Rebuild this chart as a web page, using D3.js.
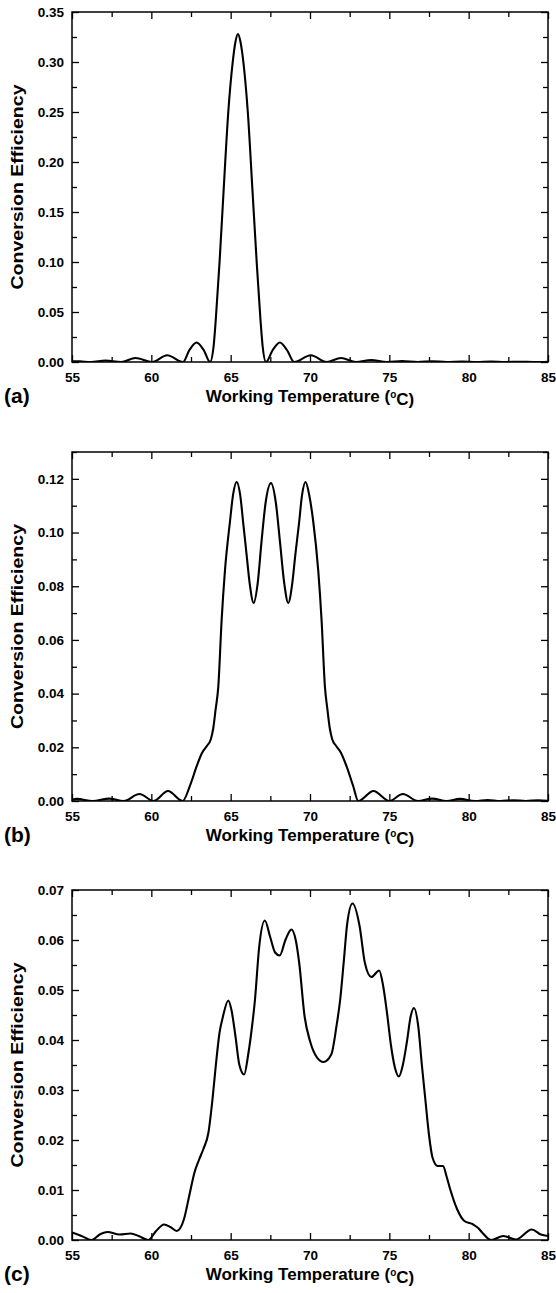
<!DOCTYPE html>
<html>
<head>
<meta charset="utf-8">
<script src="https://cdn.jsdelivr.net/npm/d3@7"></script>
<style>
  body { margin: 0; background: #fff; }
  text { font-family: "Liberation Sans", Arial, sans-serif; font-weight: bold; fill: #000; }
</style>
</head>
<body>
<script>
var width = 556,
    height = 1293;

// x axis (working temperature, deg C)
var tempDomain = [55, 85];
var tempTicks = [55, 60, 65, 70, 75, 80, 85];
var tempMinor = [57.5, 62.5, 67.5, 72.5, 77.5, 82.5];

// y ticks per panel
var effTicksA = [0, 0.05, 0.10, 0.15, 0.20, 0.25, 0.30, 0.35];
var effTicksB = [0, 0.02, 0.04, 0.06, 0.08, 0.10, 0.12];
var effTicksC = [0, 0.01, 0.02, 0.03, 0.04, 0.05, 0.06, 0.07];

// (a) single grating  [temperature, efficiency]
var curveA = [
  [55, 0.0008], [55.5, 0.0006], [56.2, 0], [57.1, 0.0015], [58.1, 0], [59.0, 0.004],
  [60.05, 0], [61.0, 0.0068], [62.0, 0], [62.4, 0.012], [62.85, 0.0195], [63.3, 0.012],
  [63.7, 0], [63.92, 0.015], [64.06, 0.042], [64.3, 0.10], [64.55, 0.17], [64.85, 0.25],
  [65.13, 0.30], [65.3, 0.32], [65.46, 0.328], [65.62, 0.32], [65.8, 0.30], [66.08, 0.25],
  [66.38, 0.17], [66.64, 0.10], [66.88, 0.042], [67.02, 0.015], [67.23, 0], [67.65, 0.012],
  [68.1, 0.0195], [68.55, 0.012], [69.0, 0], [70.05, 0.0068], [71.05, 0], [71.95, 0.004],
  [72.9, 0], [73.85, 0.002], [74.85, 0], [75.8, 0.001], [76.8, 0], [77.7, 0.0008],
  [78.6, 0], [79.6, 0.0005], [80.5, 0], [81.4, 0.0004], [82.3, 0], [83.2, 0.0003],
  [84.1, 0], [85, 0.0003]
];

// (b) three peaks
var curveB = [
  [55, 0.0004], [55.3, 0.0008], [56.3, 0], [57.35, 0.0009], [58.25, 0], [59.25, 0.0026],
  [60.15, 0], [61.05, 0.0037], [61.97, 0], [62.43, 0.0056], [62.86, 0.013], [63.2, 0.018],
  [63.5, 0.0205], [63.75, 0.023], [63.9, 0.027], [64.05, 0.034], [64.22, 0.0426],
  [64.43, 0.0673], [64.64, 0.0858], [64.96, 0.1043], [65.15, 0.114], [65.38, 0.1188],
  [65.6, 0.114], [65.8, 0.103], [66.0, 0.092], [66.2, 0.081], [66.45, 0.0738],
  [66.7, 0.081], [66.95, 0.097], [67.2, 0.111], [67.54, 0.1184], [67.85, 0.111],
  [68.1, 0.097], [68.38, 0.081], [68.63, 0.0738], [68.88, 0.081], [69.08, 0.092],
  [69.3, 0.103], [69.5, 0.114], [69.72, 0.1188], [69.95, 0.114], [70.2, 0.1043],
  [70.52, 0.0858], [70.73, 0.0673], [70.94, 0.0426], [71.1, 0.034], [71.25, 0.027],
  [71.4, 0.023], [71.65, 0.0205], [71.95, 0.018], [72.3, 0.013], [72.72, 0.0056],
  [73.04, 0], [74.0, 0.0037], [75.0, 0], [75.85, 0.0026], [76.8, 0], [77.7, 0.0009],
  [78.6, 0], [79.45, 0.0008], [80.4, 0], [81.2, 0.0004], [82.0, 0], [82.8, 0.0003],
  [83.6, 0], [84.4, 0.0003], [85, 0.0001]
];

// (c) broad multi-peak
var curveC = [
  [55, 0.0015], [55.6, 0.0008], [56.23, 0], [56.8, 0.0012], [57.24, 0.0016], [58.0, 0.0011],
  [58.7, 0.0013], [59.2, 0.0008], [59.8, 0], [60.3, 0.0018], [60.8, 0.0031], [61.2, 0.0026],
  [61.6, 0.0018], [62.05, 0.0041], [62.4, 0.009], [62.72, 0.0135], [63.0, 0.016],
  [63.28, 0.0182], [63.6, 0.0215], [63.85, 0.028], [64.06, 0.0348], [64.3, 0.0415],
  [64.5, 0.0445], [64.85, 0.0479], [65.05, 0.046], [65.3, 0.0408], [65.55, 0.035],
  [65.85, 0.0331], [66.1, 0.037], [66.3, 0.0415], [66.53, 0.048], [66.8, 0.0587],
  [67.15, 0.0639], [67.5, 0.0605], [67.8, 0.0575], [68.09, 0.0569], [68.45, 0.06],
  [68.83, 0.0621], [69.1, 0.06], [69.32, 0.0554], [69.66, 0.0447], [70.0, 0.0398],
  [70.44, 0.0365], [70.85, 0.0356], [71.34, 0.0371], [71.67, 0.0428], [71.9, 0.048],
  [72.12, 0.0554], [72.35, 0.0634], [72.68, 0.0673], [73.13, 0.0627], [73.46, 0.0554],
  [73.87, 0.0526], [74.36, 0.0539], [74.6, 0.051], [74.85, 0.0455], [75.1, 0.039],
  [75.35, 0.0345], [75.6, 0.0327], [75.85, 0.035], [76.1, 0.0395], [76.35, 0.0448],
  [76.55, 0.0464], [76.82, 0.0428], [77.05, 0.035], [77.27, 0.0281], [77.5, 0.021],
  [77.72, 0.0165], [78.05, 0.0148], [78.39, 0.0148], [78.6, 0.0128], [78.84, 0.0101],
  [79.28, 0.0061], [79.73, 0.0038], [80.29, 0.0031], [80.6, 0.0024], [80.85, 0.0015],
  [81.41, 0], [82.19, 0.0008], [82.98, 0.0001], [83.98, 0.0021], [84.55, 0.0011],
  [85, 0.0008]
];

var svg = d3.select("body").append("svg")
    .attr("width", width)
    .attr("height", height);

var left = 72, right = 548;

function drawPanel(data, yTicks, yMax, top, bottom, tag, id) {
  var x = d3.scaleLinear().domain(tempDomain).range([left, right]);
  var y = d3.scaleLinear().domain([0, yMax]).range([bottom, top]);
  var fmt = d3.format(".2f");

  var g = svg.append("g");

  // clip for the curve
  svg.append("clipPath").attr("id", "clip" + id)
    .append("rect")
    .attr("x", left).attr("y", top - 2)
    .attr("width", right - left).attr("height", bottom - top + 2);

  var step = yTicks[1] - yTicks[0];
  var yMinor = yTicks.slice(0, -1).map(function(v, i) { return (v + yTicks[i + 1]) / 2; });
  if (yTicks[yTicks.length - 1] + step / 2 <= yMax + 1e-9)
    yMinor.push(yTicks[yTicks.length - 1] + step / 2);

  function axisGroup(axis, tx, ty) {
    var a = g.append("g")
      .attr("transform", "translate(" + tx + "," + ty + ")")
      .call(axis);
    a.select(".domain").remove();
    a.selectAll("line").attr("stroke", "#000").attr("stroke-width", 1.3);
    a.selectAll("text")
      .style("font-size", "13.5px")
      .style("font-family", "'Liberation Sans', Arial, sans-serif")
      .style("font-weight", "bold");
    return a;
  }

  // bottom
  axisGroup(d3.axisBottom(x).tickValues(tempTicks).tickSize(-7).tickPadding(10).tickFormat(d3.format("d")), 0, bottom);
  axisGroup(d3.axisBottom(x).tickValues(tempMinor).tickSize(-5).tickFormat(""), 0, bottom);
  // top
  axisGroup(d3.axisTop(x).tickValues(tempTicks).tickSize(-7).tickFormat(""), 0, top);
  axisGroup(d3.axisTop(x).tickValues(tempMinor).tickSize(-5).tickFormat(""), 0, top);
  // left
  axisGroup(d3.axisLeft(y).tickValues(yTicks).tickSize(-7).tickPadding(8).tickFormat(fmt), left, 0);
  axisGroup(d3.axisLeft(y).tickValues(yMinor).tickSize(-5).tickFormat(""), left, 0);
  // right
  axisGroup(d3.axisRight(y).tickValues(yTicks).tickSize(-7).tickFormat(""), right, 0);
  axisGroup(d3.axisRight(y).tickValues(yMinor).tickSize(-5).tickFormat(""), right, 0);

  // frame
  g.append("rect")
    .attr("x", left).attr("y", top)
    .attr("width", right - left).attr("height", bottom - top)
    .attr("fill", "none")
    .attr("stroke", "#000")
    .attr("stroke-width", 1.5);

  var line = d3.line()
    .x(function(d) { return x(d[0]); })
    .y(function(d) { return y(d[1]); })
    .curve(d3.curveMonotoneX);

  g.append("path")
    .datum(data)
    .attr("clip-path", "url(#clip" + id + ")")
    .attr("d", line)
    .attr("fill", "none")
    .attr("stroke", "#000")
    .attr("stroke-width", 2.1)
    .attr("stroke-linejoin", "round");

  // axis titles
  var xt = g.append("text")
    .attr("x", (left + right) / 2)
    .attr("y", bottom + 40)
    .attr("text-anchor", "middle")
    .style("font-size", "17px");
  xt.append("tspan").text("Working Temperature (");
  xt.append("tspan").attr("dy", "-0.45em").style("font-size", "10px").text("o");
  xt.append("tspan").attr("dy", "0.45em").text("C)");

  g.append("text")
    .attr("transform", "translate(23," + (top + bottom) / 2 + ") rotate(-90)")
    .attr("text-anchor", "middle")
    .attr("textLength", 205)
    .attr("lengthAdjust", "spacingAndGlyphs")
    .style("font-size", "17px")
    .text("Conversion Efficiency");

  g.append("text")
    .attr("x", 4)
    .attr("y", bottom + 41)
    .style("font-size", "21px")
    .text(tag);
}

drawPanel(curveA, effTicksA, 0.35, 12, 362, "(a)", "a");
drawPanel(curveB, effTicksB, 0.13, 452, 801, "(b)", "b");
drawPanel(curveC, effTicksC, 0.07, 890, 1240, "(c)", "c");
</script>
</body>
</html>
